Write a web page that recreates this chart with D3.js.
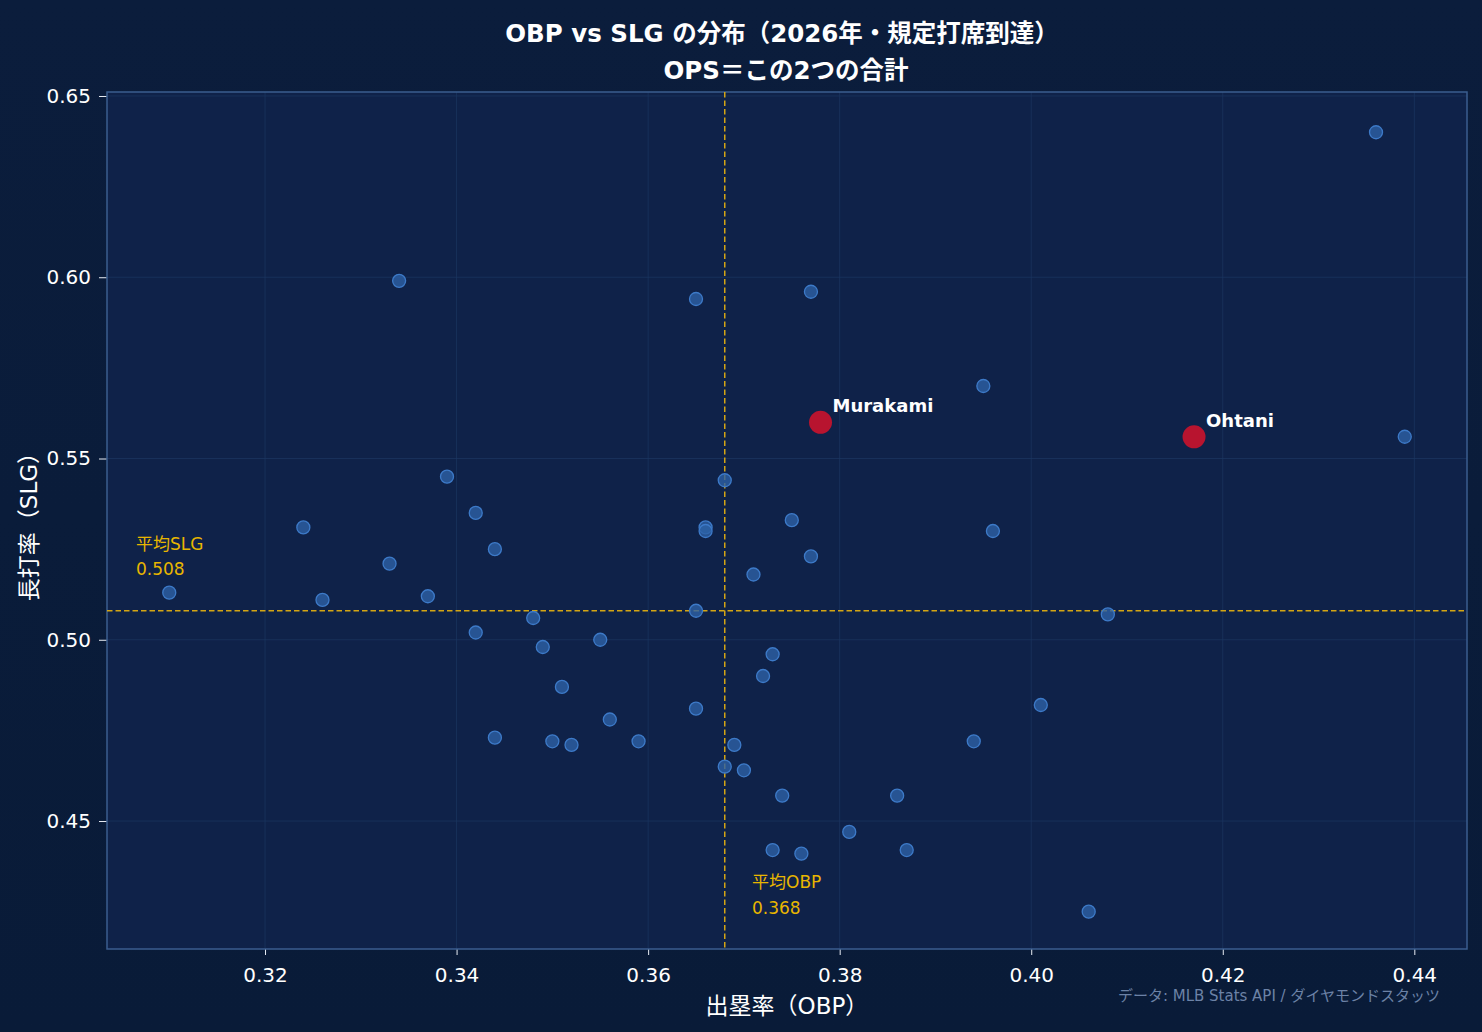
<!DOCTYPE html>
<html><head><meta charset="utf-8">
<script src="https://cdn.jsdelivr.net/npm/d3@7"></script>
<style>
html,body{margin:0;padding:0;background:#0a1c3a;}
svg{display:block;}
</style></head>
<body>
<svg id="chart" width="1482" height="1032"></svg>
<script>
const obp = [0.436,0.334,0.365,0.377,0.395,0.439,0.339,0.368,0.342,0.324,0.366,0.366,0.375,0.396,0.344,0.377,0.333,0.371,0.310,0.337,0.326,0.365,0.408,0.348,0.342,0.355,0.349,0.373,0.372,0.351,0.401,0.365,0.356,0.344,0.350,0.352,0.359,0.369,0.394,0.368,0.370,0.374,0.386,0.381,0.373,0.376,0.387,0.406];
const slg = [0.640,0.599,0.594,0.596,0.570,0.556,0.545,0.544,0.535,0.531,0.531,0.530,0.533,0.530,0.525,0.523,0.521,0.518,0.513,0.512,0.511,0.508,0.507,0.506,0.502,0.500,0.498,0.496,0.490,0.487,0.482,0.481,0.478,0.473,0.472,0.471,0.472,0.471,0.472,0.465,0.464,0.457,0.457,0.447,0.442,0.441,0.442,0.425];
const highlightNames = ["Murakami","Ohtani"];
const highlightObp = [0.378,0.417];
const highlightSlg = [0.560,0.556];
const avgObp = 0.368, avgSlg = 0.508;
const xTicks = [0.32,0.34,0.36,0.38,0.40,0.42,0.44];
const yTicks = [0.45,0.50,0.55,0.60,0.65];
const titleLines = ["OBP vs SLG の分布（2026年・規定打席到達）","OPS＝この2つの合計"];
const xLabel = "出塁率（OBP）", yLabel = "長打率（SLG）";
const sourceText = "データ: MLB Stats API / ダイヤモンドスタッツ";

const svg = d3.select("#chart");
const W=1482,H=1032;
const L=107,R=1467,T=92,B=949;
const latin = "'DejaVu Sans', 'Noto Sans CJK JP', sans-serif";

const defs = svg.append("defs");
const grad = defs.append("linearGradient").attr("id","bg").attr("x1",0).attr("y1",0).attr("x2",0).attr("y2",1);
grad.append("stop").attr("offset","0%").attr("stop-color","#0b1d3c");
grad.append("stop").attr("offset","100%").attr("stop-color","#091b38");
svg.append("rect").attr("width",W).attr("height",H).attr("fill","url(#bg)");
svg.append("rect").attr("x",L).attr("y",T).attr("width",R-L).attr("height",B-T).attr("fill","#0f2249");

const x = d3.scaleLinear().domain([0.3035,0.4455]).range([L,R]);
const y = d3.scaleLinear().domain([0.4147,0.6511]).range([B,T]);

// grid
const g = svg.append("g");
g.selectAll(".gx").data(xTicks).join("line").attr("x1",d=>x(d)).attr("x2",d=>x(d)).attr("y1",T).attr("y2",B).attr("stroke","#1c3762").attr("stroke-width",1).attr("opacity",0.7);
g.selectAll(".gy").data(yTicks).join("line").attr("y1",d=>y(d)).attr("y2",d=>y(d)).attr("x1",L).attr("x2",R).attr("stroke","#1c3762").attr("stroke-width",1).attr("opacity",0.7);

// axes
const xAxis = svg.append("g").attr("transform",`translate(0,${B})`).call(d3.axisBottom(x).tickValues(xTicks).tickFormat(d3.format(".2f")).tickSize(6).tickPadding(13));
const yAxis = svg.append("g").attr("transform",`translate(${L},0)`).call(d3.axisLeft(y).tickValues(yTicks).tickFormat(d3.format(".2f")).tickSize(8).tickPadding(8));
[xAxis,yAxis].forEach(a=>{
  a.select(".domain").remove();
  a.selectAll("line").attr("stroke","#e8edf5");
  a.selectAll("text").attr("fill","#ffffff").style("font-family",latin).style("font-size","20px");
});

// frame
svg.append("rect").attr("x",L).attr("y",T).attr("width",R-L).attr("height",B-T).attr("fill","none").attr("stroke","#3b5d8f").attr("stroke-width",1.5);

// avg lines
svg.append("line").attr("x1",x(avgObp)).attr("x2",x(avgObp)).attr("y1",T).attr("y2",B).attr("stroke","#d4a514").attr("stroke-width",1.5).attr("stroke-dasharray","5.5,3");
svg.append("line").attr("x1",L).attr("x2",R).attr("y1",y(avgSlg)).attr("y2",y(avgSlg)).attr("stroke","#d4a514").attr("stroke-width",1.5).attr("stroke-dasharray","5.5,3");

// points
const pts = obp.map((v,i)=>({x:v,y:slg[i]}));
svg.append("g").selectAll("circle").data(pts).join("circle")
  .attr("cx",d=>x(d.x)).attr("cy",d=>y(d.y)).attr("r",6.5)
  .attr("fill","#2d62a6").attr("fill-opacity",0.8)
  .attr("stroke","#3d7ac8").attr("stroke-width",1.3);

// highlights
const hl = highlightNames.map((n,i)=>({n,x:highlightObp[i],y:highlightSlg[i]}));
svg.append("g").selectAll("circle").data(hl).join("circle")
  .attr("cx",d=>x(d.x)).attr("cy",d=>y(d.y)).attr("r",11.5).attr("fill","#b8142f");
svg.append("g").selectAll("text").data(hl).join("text")
  .attr("x",d=>x(d.x)+12).attr("y",d=>y(d.y)-10)
  .attr("fill","#ffffff").style("font-family",latin).style("font-weight","bold").style("font-size","18px")
  .text(d=>d.n);

// avg annotations
const ann = svg.append("g").attr("fill","#e8b600").style("font-family",latin).style("font-size","17px");
ann.append("text").attr("x",136).attr("y",550).text("平均SLG");
ann.append("text").attr("x",136).attr("y",575).text(avgSlg.toFixed(3));
ann.append("text").attr("x",752).attr("y",888).text("平均OBP");
ann.append("text").attr("x",752).attr("y",914).text(avgObp.toFixed(3));

// title
svg.append("text").attr("x",782).attr("y",42).attr("text-anchor","middle").attr("fill","#fff")
  .style("font-family",latin).style("font-weight","bold").style("font-size","24.5px").text(titleLines[0]);
svg.append("text").attr("x",786).attr("y",79).attr("text-anchor","middle").attr("fill","#fff")
  .style("font-family",latin).style("font-weight","bold").style("font-size","24.5px").text(titleLines[1]);

// axis labels
svg.append("text").attr("x",787).attr("y",1014).attr("text-anchor","middle").attr("fill","#fff")
  .style("font-family",latin).style("font-size","23px").text(xLabel);
svg.append("text").attr("transform","translate(37,521) rotate(-90)").attr("text-anchor","middle").attr("fill","#fff")
  .style("font-family",latin).style("font-size","23px").text(yLabel);

// source
svg.append("text").attr("x",1440).attr("y",1001).attr("text-anchor","end").attr("fill","#6c82a6")
  .style("font-family",latin).style("font-size","15px").text(sourceText);
</script>
</body></html>
